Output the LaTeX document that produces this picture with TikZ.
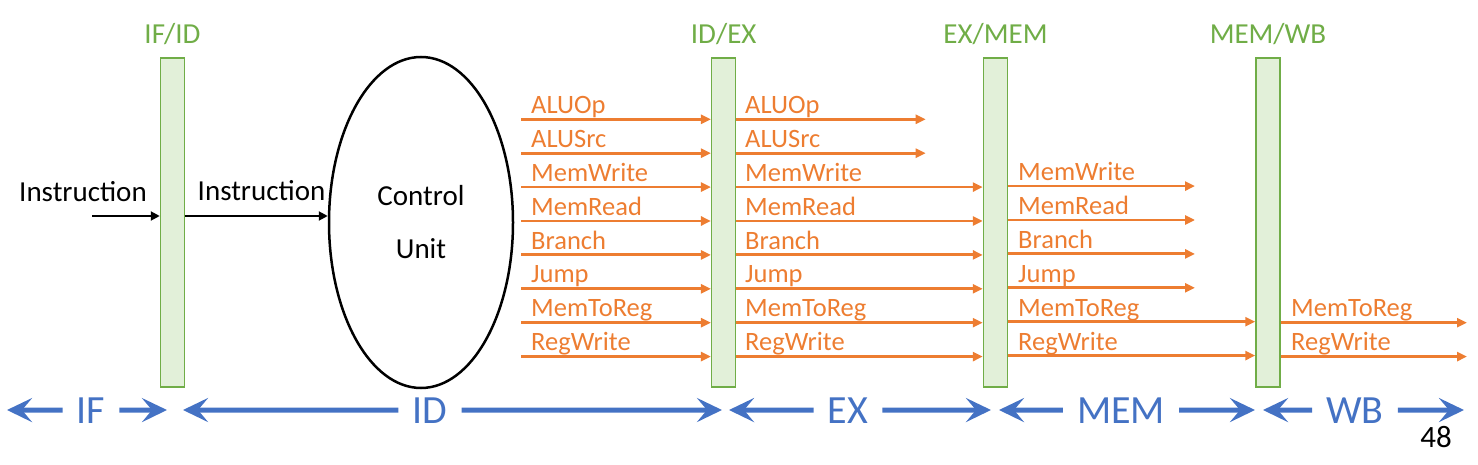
\documentclass[tikz,border=0pt]{standalone}
\usepackage{fontspec}
\setmainfont{Carlito}
\usetikzlibrary{arrows.meta,shapes.geometric}
\definecolor{regfill}{HTML}{E2F0D9}
\definecolor{regdraw}{HTML}{70AD47}
\definecolor{sig}{HTML}{ED7D31}
\definecolor{stage}{HTML}{4472C4}
\begin{document}
\begin{tikzpicture}[x=1pt,y=-1pt,
  reg/.style={draw=regdraw, fill=regfill, line width=1.5pt, minimum width=24pt, minimum height=329pt, inner sep=0},
  reglabel/.style={text=regdraw, font=\fontsize{29}{33}\selectfont, anchor=base, inner sep=0},
  sigarr/.style={draw=sig, line width=2.8pt, -{Triangle[length=10pt,width=9pt]}},
  siglabel/.style={text=sig, font=\fontsize{26.5}{30}\selectfont, anchor=base west, inner sep=0},
  ctrlarr/.style={line width=2pt, -{Triangle[length=9pt,width=9pt]}},
  plainlabel/.style={font=\fontsize{29}{33}\selectfont, anchor=base, inner sep=0},
  stagelabel/.style={text=stage, font=\fontsize{40}{44}\selectfont, anchor=base, inner xsep=14pt, inner ysep=0},
  stagearr/.style={draw=stage, line width=5pt, -{Stealth[length=25pt,width=24pt,inset=10pt]}}]
\useasboundingbox (0,0) rectangle (1478,465);

% pipeline registers
\node[reg] (ifid) at (172.5,222.5) {};
\node[reg] (idex) at (723.7,222.5) {};
\node[reg] (exmem) at (995.5,222.5) {};
\node[reg] (memwb) at (1268,222.5) {};
\node[reglabel] (lifid) at (172.5,44) {IF/ID};
\node[reglabel] (lidex) at (723.7,44) {ID/EX};
\node[reglabel] (lexmem) at (995.5,44) {EX/MEM};
\node[reglabel] (lmemwb) at (1268,44) {MEM/WB};

% control unit
\node[ellipse, draw, line width=2.5pt, minimum width=184pt, minimum height=331pt, inner sep=0,
      align=center, font=\fontsize{29}{53}\selectfont] (cu) at (421,222.5) {Control\\Unit};

% instruction path
\coordinate (inst0) at (92,216);
\node[plainlabel] (linst0) at (83,202) {Instruction};
\node[plainlabel] (linst1) at (261.5,201) {Instruction};
\draw[ctrlarr] (inst0) -- (inst0 -| ifid.west);
\draw[ctrlarr] (ifid.east |- inst0) -- (inst0 -| cu.west);

% control signals into ID/EX and out of it
\foreach \n [count=\i from 0] in {ALUOp,ALUSrc,MemWrite,MemRead,Branch,Jump,MemToReg,RegWrite} {
  \pgfmathsetmacro\yy{119.3+33.9*\i}
  \coordinate (s\i) at (521,\yy);
  \coordinate (t\i) at (1008,\yy-1);
  \node[siglabel] (la\i) at (531,\yy-5.8) {\n};
  \node[siglabel] (lb\i) at (745,\yy-5.8) {\n};
  \draw[sigarr] (s\i) -- (s\i -| idex.west);
}
\coordinate (e0) at (925.7,119.3);
\coordinate (e1) at (925.7,153.2);
\draw[sigarr] (idex.east |- s0) -- (e0);
\draw[sigarr] (idex.east |- s1) -- (e1);
\foreach \i in {2,...,7} {
  \draw[sigarr] (idex.east |- s\i) -- (s\i -| exmem.west);
}
% EX/MEM outputs
\foreach \i/\n in {2/MemWrite,3/MemRead,4/Branch,5/Jump,6/MemToReg,7/RegWrite} {
  \node[siglabel] (lc\i) at ([xshift=10pt,yshift=5.3pt]t\i) {\n};
}
\foreach \i in {2,...,5} {
  \coordinate (f\i) at ([xshift=187pt]t\i);
  \draw[sigarr] (exmem.east |- t\i) -- (f\i);
}
\foreach \i in {6,7} {
  \draw[sigarr] (exmem.east |- t\i) -- (t\i -| memwb.west);
}
% MEM/WB outputs
\foreach \i/\n in {6/MemToReg,7/RegWrite} {
  \coordinate (g\i) at (1467,0 |- s\i);
  \node[siglabel] (ld\i) at ([yshift=5.8pt]s\i -| 1291,0) {\n};
  \draw[sigarr] (memwb.east |- s\i) -- (g\i);
}

% stages
\node[stagelabel] (sIF) at (91,423) {IF};
\node[stagelabel] (sID) at (430,423) {ID};
\node[stagelabel] (sEX) at (848,423) {EX};
\node[stagelabel] (sMEM) at (1121,423) {MEM};
\node[stagelabel] (sWB) at (1355,423) {WB};
\coordinate (ifL) at (7,410);   \coordinate (ifR) at (167,410);
\coordinate (idL) at (183,410); \coordinate (idR) at (722,410);
\coordinate (exL) at (729,410); \coordinate (exR) at (991,410);
\coordinate (meL) at (999,410); \coordinate (meR) at (1255,410);
\coordinate (wbL) at (1263,410);\coordinate (wbR) at (1464,410);
\draw[stagearr] (sIF.west) -- (ifL);  \draw[stagearr] (sIF.east) -- (ifR);
\draw[stagearr] (sID.west) -- (idL);  \draw[stagearr] (sID.east) -- (idR);
\draw[stagearr] (sEX.west) -- (exL);  \draw[stagearr] (sEX.east) -- (exR);
\draw[stagearr] (sMEM.west) -- (meL); \draw[stagearr] (sMEM.east) -- (meR);
\draw[stagearr] (sWB.west) -- (wbL);  \draw[stagearr] (sWB.east) -- (wbR);

\node[font=\fontsize{31}{35}\selectfont, anchor=base, inner sep=0] (pg) at (1436,447) {48};
\end{tikzpicture}
\end{document}
